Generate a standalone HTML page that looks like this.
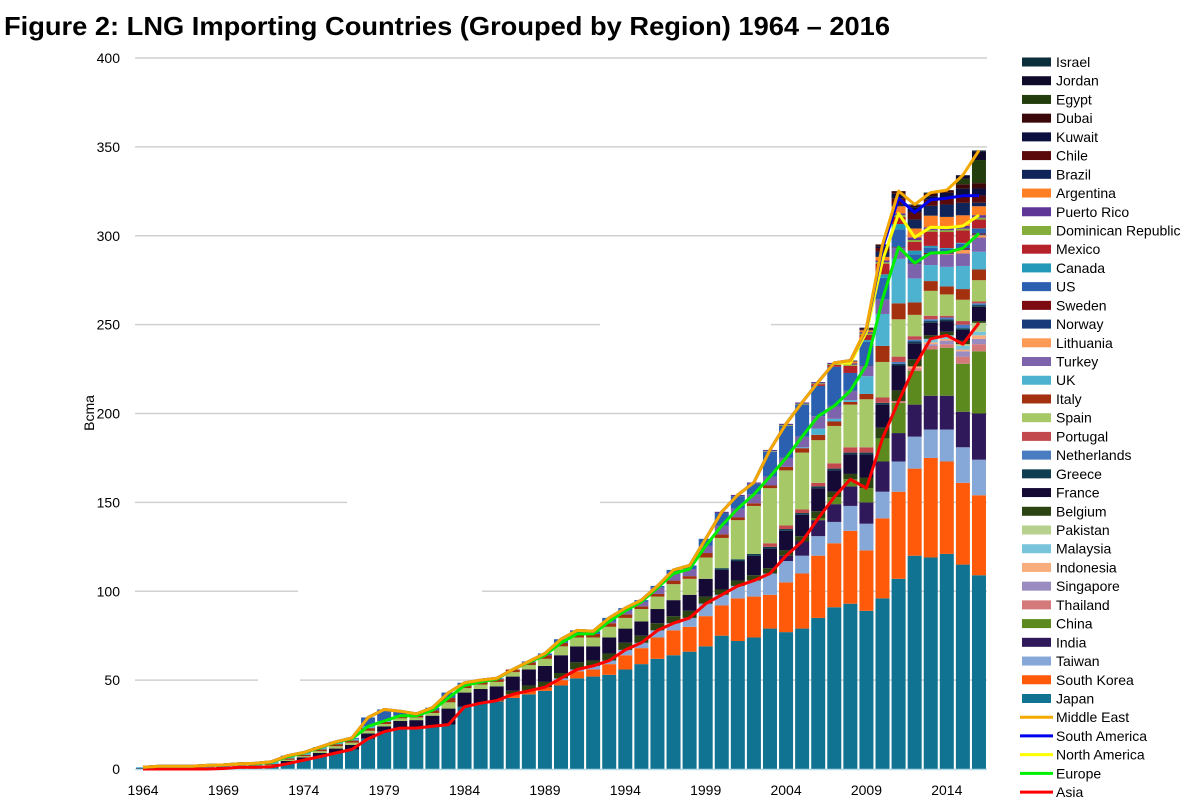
<!DOCTYPE html>
<html><head><meta charset="utf-8"><style>
html,body{margin:0;padding:0;background:#fff;width:1200px;height:803px;overflow:hidden}
svg{display:block;font-family:"Liberation Sans",Arial,sans-serif}
</style></head><body>
<svg id="chart" width="1200" height="803" viewBox="0 0 1200 803">
<text x="4" y="35" font-size="26" font-weight="bold" fill="#000" textLength="886" lengthAdjust="spacingAndGlyphs">Figure 2: LNG Importing Countries (Grouped by Region) 1964 – 2016</text>
<g id="grid"></g>
<g id="yticks"></g>
<g id="xticks"></g>
<text transform="translate(94,413) rotate(-90)" text-anchor="middle" font-size="14" fill="#000">Bcma</text>
<g id="bars"></g>
<g id="lines"></g>
<g id="legend"></g>
</svg>
<script>
const years=[];for(let y=1964;y<=2016;y++)years.push(y);
const yTicks=[0,50,100,150,200,250,300,350,400];
const xTickLabels=[1964,1969,1974,1979,1984,1989,1994,1999,2004,2009,2014];
const z=n=>Array(n).fill(0);
const japan=[...z(5),0.3,1,1,1.3,3,5,7,9,11,17,21,23,23,24,25,35,37,38,40,42,44,47,51,52,53,56,59,62,64,66,69,75,72,74,79,77,79,85,91,93,89,96,107,120,119,121,115,109];
const southKorea=[...z(22),0.5,2,2,2,3,4,4,6,8,9,12,14,14,17,17,24,23,19,28,31,35,36,41,34,45,49,49,56,52,46,45];
const taiwan=[...z(26),1,1,2,2,3,3,4,4,5,7,6,7,9,12,12,10,11,12,14,15,15,17,18,16,18,20,20];
const india=[...z(40),3,8,9,10,11,12,17,16,18,19,19,20,26];
const china=[...z(42),1,4,4,8,13,17,19,26,27,27,35];
const thailand=[...z(47),1,1.5,2,2,4,4];
const singapore=[...z(49),1,2,3,3];
const indonesia=[...z(48),1,1,1,1,2];
const malaysia=[...z(49),2,2,2,2];
const pakistan=[...z(51),1,5];
const belgium=[...z(23),2,3,3,3,4,3,4,4,4,4,4,4,4,3,3,3,3,3,3,4,3,3,6,6,6,4,2,2,2,1];
const france=[0.5,0.5,0.5,0.5,1,1,0.5,0.5,0.5,1.5,1.5,2,2.5,2.5,3,3,4,4.5,6,9,8,8,8,8,9,9,10,9,8,9,8,8,8,9,9,10,11,11,11,11,11,12,13,12,11,13,13,14,9,7,6,6,8];
const greece=[...z(36),1,1,1,1,1,1,1,1,1,1,1,1,1,1,1,1,1];
const netherlands=[...z(47),1,1,1,1,2,1];
const portugal=[...z(39),2,2,2,2,3,3,3,3,3,2,2,1,2,1];
const spain=[...z(6),0.5,0.2,0.5,0.7,0.7,1,1.3,1.3,1.5,1.3,1.5,1.5,1.5,3.5,2.5,2.5,2.5,2.5,2.5,4,5,5,5,6,6,7,7,9,9,12,17,22,27,31,31,32,24,21,24,27,20,21,12,14,12,12,12];
const italy=[...z(7),0.3,0.5,0.8,0.8,1,1.2,1.2,1.5,1.2,1,1,1.5,2.5,1.5,1.5,1.5,1.5,1.5,2,2,2,2,2,2,1.5,1.5,2,1.5,2.5,2,1.5,1.5,1.5,2,2.5,3,2.5,1.5,3,9,9,7,5.5,4.5,6,6];
const uk=[0.5,1,1,1,1,1,1,1,1,1,1,1,1,1,1,0.5,0.5,...z(24),0.5,3.5,1.5,1,10,18,25,13.5,9,11,13,10];
const turkey=[...z(29),1,2,2.5,3.5,4,4,4,5,5,5,5,5,6,7,7,5,6,8,6,8,6,7,7,8];
const lithuania=[...z(50),0.3,2,1.3];
const norway=[...z(43),0.3,0.3,0.3,0.3,0.3,0.3,0.3,0.3,0.5,0.5];
const sweden=[...z(47),0.3,0.3,0.5,0.5,0.5,0.5];
const us=[...z(7),0.2,0.3,0.5,0.3,0.3,0.3,0.5,5,6.5,2.5,1,1.5,3,1.5,1,0.5,0,0.5,1,2,2,1.5,2,1.5,1,1,2,2,4,7,7,6,14,18,18,17,22,10,13,12,10,5,3,2,2.5,2.5];
const canada=[...z(45),1,2,3,2,1,0.5,0.5,0.3];
const mexico=[...z(42),1,1,4,3,6,4,5,8,9,7,5];
const dominicanRepublic=[...z(39),0.3,0.5,0.5,0.5,0.5,0.7,0.7,0.8,1,1,1,1,1,1];
const puertoRico=[...z(36),0.7,0.7,0.7,0.7,0.7,0.7,0.7,0.7,0.8,0.8,1,1,1.5,1.5,1.5,1.5,1.5];
const argentina=[...z(44),1,1,2,4,5,6.5,6,6,5];
const brazil=[...z(44),0.5,0.5,3,1,5,5.5,7,7,2];
const chile=[...z(45),0.5,2,3.5,4,3.5,3.5,4,4];
const kuwait=[...z(45),0.5,1,2.5,3,2,3,4,4];
const dubai=[...z(46),1,1.5,1,1.5,1.5,2.5,3];
const egypt=[...z(51),3,13];
const jordan=[...z(51),2,5];
const israel=[...z(48),0.5,0.5,0.1,0.1,0.4];

const series=[
 ["Japan",japan,"#0f7391","asia"],["South Korea",southKorea,"#ff5a0a","asia"],["Taiwan",taiwan,"#86a8d8","asia"],
 ["India",india,"#30195a","asia"],["China",china,"#5c8a1e","asia"],["Thailand",thailand,"#d47a7a","asia"],
 ["Singapore",singapore,"#9a8cc0","asia"],["Indonesia",indonesia,"#f9ad7c","asia"],["Malaysia",malaysia,"#78c4da","asia"],
 ["Pakistan",pakistan,"#b6d08e","asia"],
 ["Belgium",belgium,"#2b4411","eu"],["France",france,"#150a35","eu"],["Greece",greece,"#0e3e50","eu"],
 ["Netherlands",netherlands,"#4a7cc2","eu"],["Portugal",portugal,"#c24a4e","eu"],["Spain",spain,"#a6c867","eu"],
 ["Italy",italy,"#a3300e","eu"],["UK",uk,"#4cb2d0","eu"],["Turkey",turkey,"#7d63ab","eu"],
 ["Lithuania",lithuania,"#fd9a55","eu"],["Norway",norway,"#163a7a","eu"],["Sweden",sweden,"#7c0b12","eu"],
 ["US",us,"#2b5fb0","na"],["Canada",canada,"#2299b8","na"],["Mexico",mexico,"#b5222a","na"],
 ["Dominican Republic",dominicanRepublic,"#85ad3c","na"],["Puerto Rico",puertoRico,"#5e3796","na"],
 ["Argentina",argentina,"#ff7f25","sa"],["Brazil",brazil,"#0f2458","sa"],["Chile",chile,"#5a0a0a","sa"],
 ["Kuwait",kuwait,"#0a0f40","me"],["Dubai",dubai,"#3a0808","me"],["Egypt",egypt,"#243d0c","me"],
 ["Jordan",jordan,"#100a2a","me"],["Israel",israel,"#0c2e3a","me"]
];
const regionLines=[["Asia","asia","#ff0000"],["Europe","eu","#00ee00"],["North America","na","#ffff00"],["South America","sa","#0000ee"],["Middle East","me","#f5a800"]];

const NS="http://www.w3.org/2000/svg";
const X0=135,X1=987,Y0=769,Y400=58;
const step=(X1-X0)/years.length;
const xc=i=>X0+step*(i+0.5);
const yv=v=>Y0-(v/400)*(Y0-Y400);
function mk(tag,attrs,parent){const e=document.createElementNS(NS,tag);for(const k in attrs)e.setAttribute(k,attrs[k]);parent.appendChild(e);return e;}

const gaps={50:[258,300],100:[298,482],150:[347,600],250:[600,771]};
const grid=document.getElementById('grid');
yTicks.forEach(t=>{
  if(t===0)return;
  const segs=gaps[t]?[[X0,gaps[t][0]],[gaps[t][1],X1]]:[[X0,X1]];
  segs.forEach(s=>{
    const l=mk('line',{x1:s[0],x2:s[1],y1:yv(t),y2:yv(t),stroke:'#d0d0d0','stroke-width':1.5},grid);
    
    
  });
});
const yt=document.getElementById('yticks');
yTicks.forEach(t=>{
  const e=mk('text',{x:120,y:yv(t)+5,'text-anchor':'end','font-size':14,fill:'#000'},yt);
  e.textContent=t;
  
  
});
const xt=document.getElementById('xticks');
xTickLabels.forEach(y=>{
  const i=years.indexOf(y);
  const e=mk('text',{x:xc(i),y:795,'text-anchor':'middle','font-size':14,fill:'#000'},xt);
  e.textContent=y;
  
  
});

const bars=document.getElementById('bars');
const regionCum={asia:[],eu:[],na:[],sa:[],me:[]};
years.forEach((yr,i)=>{
  let cum=0;
  series.forEach(s=>{
    const v=s[1][i]||0;
    if(v>0){
      const r=mk('rect',{x:xc(i)-7,y:yv(cum+v),width:14,height:yv(cum)-yv(cum+v),fill:s[2]},bars);
      
      
    }
    cum+=v;
    regionCum[s[3]][i]=cum;
  });
});
const ax=mk('line',{x1:X0,x2:X1,y1:Y0+0.5,y2:Y0+0.5,stroke:'#b8dce8','stroke-width':1.5},bars);



const lines=document.getElementById('lines');
regionLines.forEach(r=>{
  const pts=years.map((y,i)=>xc(i).toFixed(1)+','+yv(regionCum[r[1]][i]).toFixed(1)).join(' ');
  const p=mk('polyline',{points:pts,fill:'none',stroke:r[2],'stroke-width':3,'stroke-linejoin':'round'},lines);
  
  
});

const lg=document.getElementById('legend');
const entries=[...series].reverse().map(s=>[s[0],s[2],'box']).concat([...regionLines].reverse().map(r=>[r[0],r[2],'line']));
entries.forEach((e,k)=>{
  const y=62+k*18.72;
  const g=mk('g',{},lg);
  
  
  if(e[2]==='box') mk('rect',{x:1022,y:y-4.5,width:29,height:9,fill:e[1]},g);
  else mk('line',{x1:1020,x2:1053,y1:y,y2:y,stroke:e[1],'stroke-width':3},g);
  const t=mk('text',{x:1056,y:y+5,'font-size':14,fill:'#000'},g);
  t.textContent=e[0];
});
</script>
</body></html>
